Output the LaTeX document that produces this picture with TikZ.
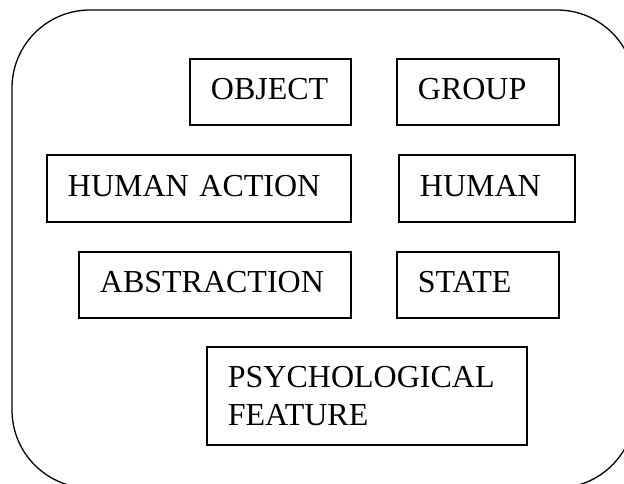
\documentclass[tikz,border=0pt]{standalone}
\usepackage{fontspec}
\setmainfont{Liberation Serif}
\usepackage{tikz}
\usetikzlibrary{positioning}

\begin{document}
\begin{tikzpicture}[x=1pt,y=-1pt,
  cat/.style={draw,line width=1.8pt,rectangle,anchor=north west,inner xsep=21pt,
              align=left,text height=22pt,text depth=6pt,
              font=\fontsize{32}{38}\selectfont}]
				  \useasboundingbox (0,0) rectangle (624,483);
				  \clip (0,0) rectangle (624,483);
				  \draw[line width=1.3pt,rounded corners=78pt] (12,10) rectangle (635,488);

				  \node[cat,minimum width=161pt,minimum height=66pt,text width=119pt] (object)   at (189,58)  {OBJECT};
				  \node[cat,minimum width=162pt,minimum height=66pt,text width=120pt] (group)    at (396,58)  {GROUP};
				  \node[cat,minimum width=304pt,minimum height=67pt,text width=262pt] (humanact) at (46,154)  {HUMAN ACTION};
				  \node[cat,minimum width=176pt,minimum height=67pt,text width=134pt] (human)    at (398,154) {HUMAN};
				  \node[cat,minimum width=272pt,minimum height=66pt,text width=230pt] (abstr)    at (78,251)  {ABSTRACTION};
				  \node[cat,minimum width=162pt,minimum height=66pt,text width=120pt] (state)    at (396,251) {STATE};
				  \node[cat,minimum width=320pt,minimum height=98pt,text width=278pt,
				        text height=,text depth=] (psych) at (206,346) {PSYCHOLOGICAL\\FEATURE};
			\end{tikzpicture}
\end{document}
